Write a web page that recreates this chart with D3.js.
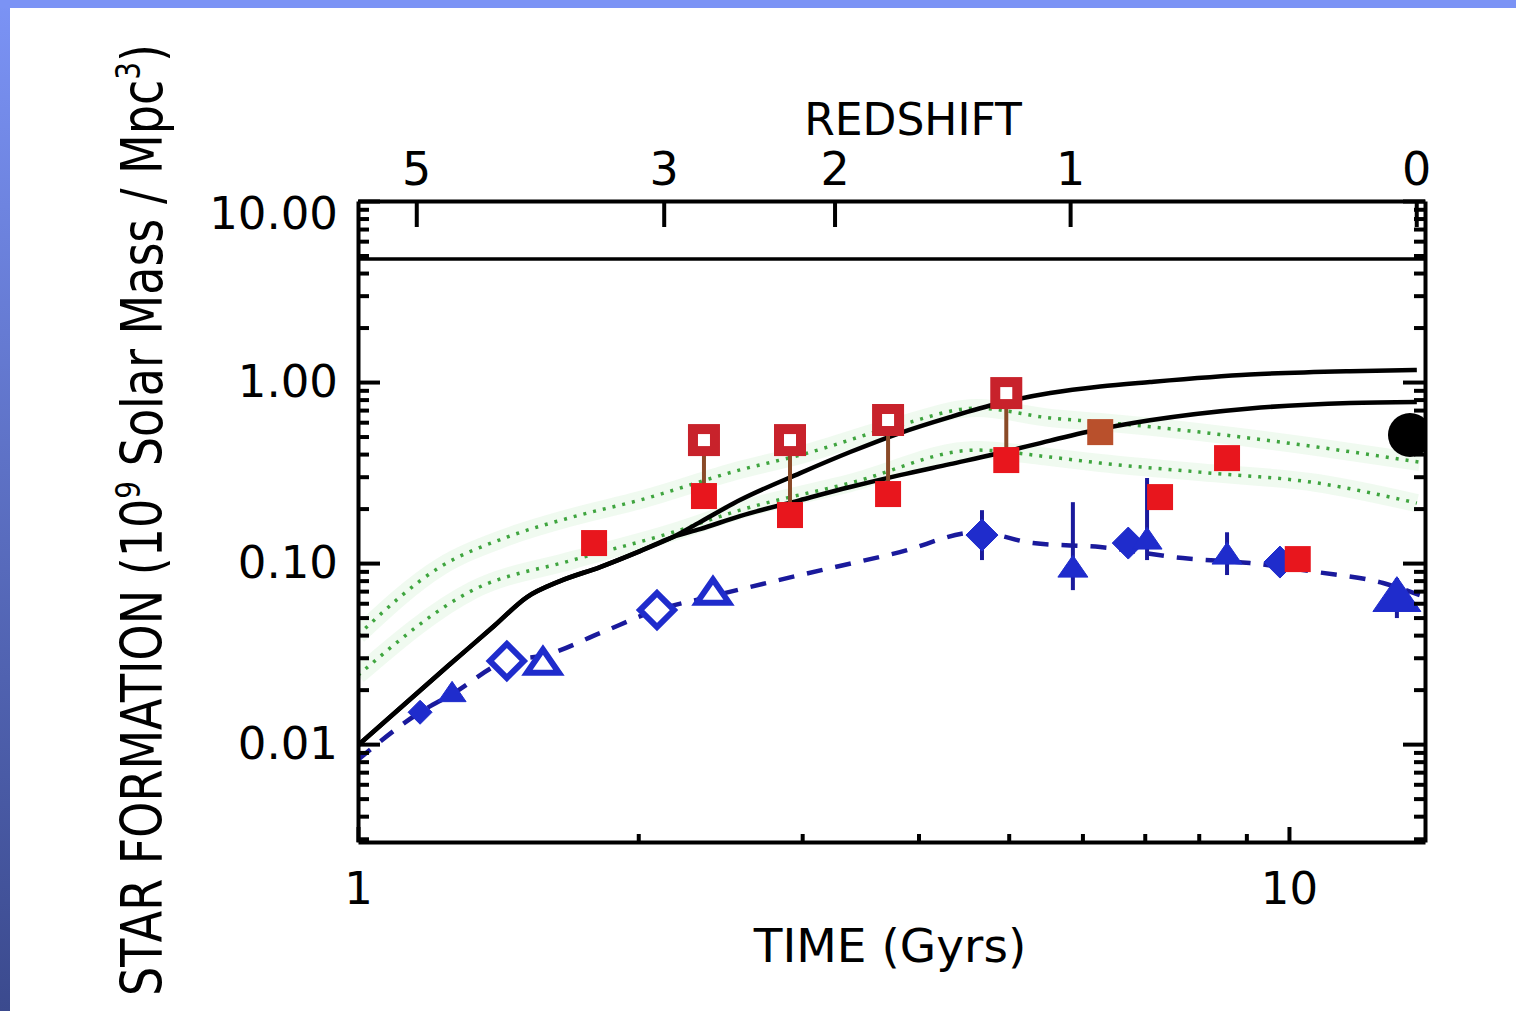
<!DOCTYPE html>
<html>
<head>
<meta charset="utf-8">
<script src="https://cdnjs.cloudflare.com/ajax/libs/d3/7.8.5/d3.min.js"></script>
<style>
  body { margin: 0; background: #fff; }
  svg { display: block; }
  text { font-family: 'DejaVu Sans', sans-serif; fill: #000; }
</style>
</head>
<body>
<div id="chart-area"></div>
<script>
const canvas_width = 1516;
const canvas_height = 1011;
const frame = { left: 358, right: 1425, top: 201, bottom: 842 };

const t_min = 1, t_max = 14.0;
const sf_min = 0.00288, sf_max = 10;

const y_major = [0.01, 0.1, 1, 10];
const x_major = [1, 10];
const redshift_labels = ['5', '3', '2', '1', '0'];
const redshift_times = [1.155, 2.13, 3.25, 5.82, 13.7];

// model curves (black)
const model_time  = [1.0, 1.249, 1.40, 1.519, 1.648, 1.82, 2.009, 2.179, 2.33, 2.572, 2.985, 3.378, 3.82, 4.324, 4.894, 5.54, 6.27, 7.09, 9.08, 11.63, 13.72];
const model_upper = [0.00987, 0.027, 0.0449, 0.0649, 0.0795, 0.0951, 0.1165, 0.1393, 0.1684, 0.2229, 0.314, 0.4106, 0.523, 0.6407, 0.766, 0.869, 0.945, 1.0, 1.1, 1.148, 1.165];
const model_lower = [0.00987, 0.027, 0.0449, 0.0649, 0.0795, 0.0951, 0.1165, 0.1393, 0.154, 0.1818, 0.2229, 0.263, 0.306, 0.352, 0.4055, 0.475, 0.55, 0.615, 0.715, 0.765, 0.775];
const baryon_level = 4.78;

// green dotted bands
const green_time_upper = [1.0, 1.225, 1.445, 1.702, 2.009, 2.572, 2.985, 3.82, 4.62, 5.54, 6.27, 8.02, 10.72, 13.82];
const green_upper      = [0.040, 0.0951, 0.139, 0.180, 0.223, 0.327, 0.395, 0.579, 0.718, 0.633, 0.601, 0.529, 0.4375, 0.361];
const green_time_lower = [1.0, 1.329, 1.702, 2.179, 2.572, 3.38, 4.62, 5.54, 6.27, 8.02, 10.72, 13.72];
const green_lower      = [0.024, 0.0709, 0.104, 0.148, 0.196, 0.277, 0.421, 0.385, 0.357, 0.318, 0.277, 0.2145];

// blue dashed fit
const blue_line_time  = [1.0, 1.166, 1.262, 1.445, 1.588, 1.819, 2.095, 2.406, 2.985, 3.82, 4.62, 5.31, 6.27, 7.69, 9.08, 10.72, 12.62, 13.82];
const blue_line_value = [0.0082, 0.0150, 0.0189, 0.0288, 0.031, 0.041, 0.055, 0.0658, 0.0859, 0.115, 0.148, 0.129, 0.1226, 0.1066, 0.100, 0.0892, 0.0776, 0.0666];

// blue points
const blue_time  = [1.166, 1.262, 1.445, 1.580, 2.095, 2.406, 4.68, 5.86, 6.72, 7.04, 8.58, 9.78, 13.06];
const blue_value = [0.0150, 0.0191, 0.0288, 0.0280, 0.0550, 0.0683, 0.1428, 0.0938, 0.129, 0.134, 0.1107, 0.1013, 0.0649];
const blue_err_lo = [null, null, null, null, null, null, 0.1039, 0.0709, 0.1136, 0.1039, 0.0859, null, 0.0497];
const blue_err_hi = [null, null, null, null, null, null, 0.196, 0.217, 0.1428, 0.295, 0.148, null, 0.0826];
const blue_kind  = ['smallDiamond', 'smallTriangle', 'openDiamond', 'openTriangle', 'openDiamond', 'openTriangle',
                    'diamond', 'triangle', 'diamond', 'triangle', 'triangle', 'diamond', 'bigTriangle'];

// red points
const red_time  = [1.793, 2.353, 2.911, 3.71, 4.97, 6.27, 7.27, 8.58, 10.22];
const red_value = [0.129, 0.2346, 0.1842, 0.2406, 0.3707, 0.529, 0.2315, 0.380, 0.1052];
const red_open_time  = [2.353, 2.911, 3.71, 4.97];
const red_open_value = [0.478, 0.478, 0.617, 0.869];
const red_open_base  = [0.2346, 0.1842, 0.2406, 0.3707];

// local value (black dot)
const local_time = 13.49, local_value = 0.51;

const diamond = { draw(ctx, size) { const r = Math.sqrt(size) / 2;
    ctx.moveTo(0, -r); ctx.lineTo(r, 0); ctx.lineTo(0, r); ctx.lineTo(-r, 0); ctx.closePath(); } };
const triangle = { draw(ctx, size) { const r = Math.sqrt(size) / 2;
    ctx.moveTo(0, -r * 0.85); ctx.lineTo(r, r * 0.6); ctx.lineTo(-r, r * 0.6); ctx.closePath(); } };

const marker_style = {
    smallDiamond:  { type: diamond,  r: 12, filled: true },
    smallTriangle: { type: triangle, r: 14, filled: true },
    openDiamond:   { type: diamond,  r: 17, filled: false },
    openTriangle:  { type: triangle, r: 16, filled: false },
    diamond:       { type: diamond,  r: 16, filled: true },
    triangle:      { type: triangle, r: 15, filled: true },
    bigTriangle:   { type: triangle, r: 24, filled: true }
};

const blue_mark = '#1f2ccc', blue_dark = '#1a1a9c';
const red_fill = '#e8161d', red_open = '#c8222b', red_link = '#8a4a28';

let canvas = d3.select('#chart-area').append('svg')
    .attr('width', canvas_width)
    .attr('height', canvas_height);

let defs = canvas.append('defs');
let grad = defs.append('linearGradient').attr('id', 'side').attr('x1', 0).attr('y1', 0).attr('x2', 0).attr('y2', 1);
grad.append('stop').attr('offset', '0%').attr('stop-color', '#7b93f5');
grad.append('stop').attr('offset', '100%').attr('stop-color', '#3b4a8e');
defs.append('clipPath').attr('id', 'plot-clip').append('rect')
    .attr('x', frame.left).attr('y', frame.top)
    .attr('width', frame.right - frame.left).attr('height', frame.bottom - frame.top);

canvas.append('rect').attr('width', canvas_width).attr('height', canvas_height).attr('fill', '#fff');
canvas.append('rect').attr('width', 10).attr('height', canvas_height).attr('fill', 'url(#side)');
canvas.append('rect').attr('width', canvas_width).attr('height', 8).attr('fill', '#7b93f5');

let x = d3.scaleLog().domain([t_min, t_max]).range([frame.left, frame.right]);
let y = d3.scaleLog().domain([sf_min, sf_max]).range([frame.bottom, frame.top]);

let plot = canvas.append('g').attr('clip-path', 'url(#plot-clip)');

const line = (ts, vs, curve) => d3.line()
    .x((d, i) => x(ts[i]))
    .y((d, i) => y(vs[i]))
    .curve(curve || d3.curveMonotoneX)(ts);

// green bands
[[green_time_upper, green_upper], [green_time_lower, green_lower]].forEach(([ts, vs]) => {
    plot.append('path').attr('d', line(ts, vs))
        .attr('fill', 'none').attr('stroke', '#eaf8ea').attr('stroke-width', 18).attr('opacity', 0.7);
});
[[green_time_upper, green_upper], [green_time_lower, green_lower]].forEach(([ts, vs]) => {
    plot.append('path').attr('d', line(ts, vs))
        .attr('fill', 'none').attr('stroke', '#3fa53f').attr('stroke-width', 3.5)
        .attr('stroke-dasharray', '3,7');
});

// baryon line
plot.append('line')
    .attr('x1', x(t_min)).attr('x2', x(t_max))
    .attr('y1', y(baryon_level)).attr('y2', y(baryon_level))
    .attr('stroke', '#000').attr('stroke-width', 3.5);

// model curves
[model_upper, model_lower].forEach((vs) => {
    plot.append('path').attr('d', line(model_time, vs))
        .attr('fill', 'none').attr('stroke', '#000').attr('stroke-width', 4.5)
        .attr('stroke-linejoin', 'round');
});

// blue dashed fit
plot.append('path').attr('d', line(blue_line_time, blue_line_value))
    .attr('fill', 'none').attr('stroke', blue_dark).attr('stroke-width', 4.5)
    .attr('stroke-dasharray', '16,13');

// blue error bars
blue_time.forEach((t, i) => {
    if (blue_err_lo[i] === null) return;
    plot.append('line')
        .attr('x1', x(t)).attr('x2', x(t))
        .attr('y1', y(blue_err_lo[i])).attr('y2', y(blue_err_hi[i]))
        .attr('stroke', blue_dark).attr('stroke-width', 4);
});

// blue markers
plot.selectAll('.blue-mark').data(blue_time).enter().append('path')
    .attr('class', 'blue-mark')
    .attr('transform', (d, i) => `translate(${x(d)}, ${y(blue_value[i])})`)
    .attr('d', (d, i) => {
        let s = marker_style[blue_kind[i]];
        return d3.symbol().type(s.type).size(4 * s.r * s.r)();
    })
    .attr('fill', (d, i) => marker_style[blue_kind[i]].filled ? blue_mark : '#fff')
    .attr('stroke', blue_mark)
    .attr('stroke-width', (d, i) => marker_style[blue_kind[i]].filled ? 1 : 6)
    .attr('stroke-linejoin', 'miter');

// red links
red_open_time.forEach((t, i) => {
    plot.append('line')
        .attr('x1', x(t)).attr('x2', x(t))
        .attr('y1', y(red_open_value[i])).attr('y2', y(red_open_base[i]))
        .attr('stroke', red_link).attr('stroke-width', 4);
});

// red filled squares
plot.selectAll('.red-fill').data(red_time).enter().append('rect')
    .attr('class', 'red-fill')
    .attr('x', (d) => x(d) - 13)
    .attr('y', (d, i) => y(red_value[i]) - 13)
    .attr('width', 26).attr('height', 26)
    .attr('fill', (d, i) => i === 5 ? '#b9502c' : red_fill);

// red open squares
plot.selectAll('.red-open').data(red_open_time).enter().append('rect')
    .attr('class', 'red-open')
    .attr('x', (d) => x(d) - 11)
    .attr('y', (d, i) => y(red_open_value[i]) - 11)
    .attr('width', 22).attr('height', 22)
    .attr('fill', '#fff').attr('stroke', red_open).attr('stroke-width', 10);

// local value
plot.append('circle')
    .attr('cx', x(local_time)).attr('cy', y(local_value)).attr('r', 22)
    .attr('fill', '#000');

// axes
const style_axis = (g, labelSize) => {
    g.selectAll('.domain').attr('stroke', '#000').attr('stroke-width', 4);
    g.selectAll('.tick line').attr('stroke', '#000').attr('stroke-width', 4);
    g.selectAll('.tick text').attr('font-size', labelSize || 45).attr('fill', '#000')
        .attr('font-family', "'DejaVu Sans', sans-serif");
};

let y_minor = y.ticks().filter((d) => !y_major.some((m) => Math.abs(m - d) < 1e-9));
let x_minor = x.ticks().filter((d) => x_major.indexOf(d) < 0);

let left_axis = canvas.append('g').attr('transform', `translate(${frame.left}, 0)`)
    .call(d3.axisLeft(y).tickValues(y_major).tickSize(-22).tickSizeOuter(0).tickPadding(20)
        .tickFormat(d3.format('.2f')));
style_axis(left_axis);
left_axis.selectAll('.tick text').filter((d) => d === 10).attr('dy', '0.62em');

let left_minor = canvas.append('g').attr('transform', `translate(${frame.left}, 0)`)
    .call(d3.axisLeft(y).tickValues(y_minor).tickSize(-11).tickFormat(''));
left_minor.select('.domain').remove();
style_axis(left_minor);

let right_axis = canvas.append('g').attr('transform', `translate(${frame.right}, 0)`)
    .call(d3.axisRight(y).tickValues(y_major).tickSize(-22).tickSizeOuter(0).tickFormat(''));
style_axis(right_axis);
let right_minor = canvas.append('g').attr('transform', `translate(${frame.right}, 0)`)
    .call(d3.axisRight(y).tickValues(y_minor).tickSize(-11).tickFormat(''));
right_minor.select('.domain').remove();
style_axis(right_minor);

let bottom_axis = canvas.append('g').attr('transform', `translate(0, ${frame.bottom})`)
    .call(d3.axisBottom(x).tickValues(x_major).tickSize(-15).tickSizeOuter(0).tickPadding(30)
        .tickFormat(d3.format('d')));
style_axis(bottom_axis);
let bottom_minor = canvas.append('g').attr('transform', `translate(0, ${frame.bottom})`)
    .call(d3.axisBottom(x).tickValues(x_minor).tickSize(-8).tickFormat(''));
bottom_minor.select('.domain').remove();
style_axis(bottom_minor);

let top_axis = canvas.append('g').attr('transform', `translate(0, ${frame.top})`)
    .call(d3.axisTop(x).tickValues(redshift_times).tickSize(-26).tickSizeOuter(0).tickPadding(16)
        .tickFormat((d, i) => redshift_labels[i]));
style_axis(top_axis, 46);

// labels
canvas.append('text')
    .attr('x', 913).attr('y', 135)
    .attr('text-anchor', 'middle').attr('font-size', 44)
    .text('REDSHIFT');

canvas.append('text')
    .attr('x', 890).attr('y', 962)
    .attr('text-anchor', 'middle').attr('font-size', 47)
    .text('TIME (Gyrs)');

let ylab = canvas.append('text')
    .attr('transform', 'translate(162, 520) rotate(-90) scale(1, 1.22)')
    .attr('text-anchor', 'middle').attr('font-size', 46);
ylab.append('tspan').text('STAR FORMATION (10');
ylab.append('tspan').attr('dy', -18).attr('font-size', 28).text('9');
ylab.append('tspan').attr('dy', 18).text(' Solar Mass / Mpc');
ylab.append('tspan').attr('dy', -18).attr('font-size', 28).text('3');
ylab.append('tspan').attr('dy', 18).text(')');
</script>
</body>
</html>
